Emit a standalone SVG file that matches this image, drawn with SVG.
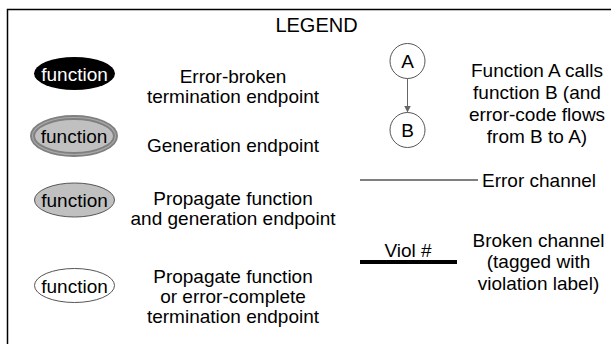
<svg xmlns="http://www.w3.org/2000/svg" width="611" height="344" viewBox="0 0 611 344">
<defs>
<style>
text{font-family:"Liberation Sans",Arial,sans-serif;font-size:19px;fill:#000;text-anchor:middle}
.w{fill:#fff}
.s{text-anchor:start}
.g{fill:#c0c0c0;stroke:#555;stroke-width:1}
.e{fill:#fff;stroke:#555;stroke-width:1}
.c{fill:#fff;stroke:#555;stroke-width:1}
</style>
<marker id="ah" viewBox="0 0 10 10" refX="10" refY="5" markerWidth="7" markerHeight="7" markerUnits="userSpaceOnUse" orient="auto"><path d="M0,0 L10,5 L0,10 z" fill="#666"/></marker>
</defs>
<rect x="7.5" y="9.5" width="700" height="400" fill="#fff" stroke="#000" stroke-width="1.5"/>
<text x="316.5" y="31.5" style="font-size:20px">LEGEND</text>
<g id="n1"><ellipse cx="74.5" cy="73.5" rx="40.5" ry="16.5" fill="#000"/><text class="w" x="74.5" y="80.5">function</text></g>
<g id="n2"><ellipse cx="74" cy="136" rx="41.5" ry="18.5" fill="#c0c0c0" stroke="#808080" stroke-width="5"/><ellipse cx="74" cy="136" rx="41.5" ry="18.5" fill="none" stroke="#a8a8a8" stroke-width="1.2"/><text x="74" y="143">function</text></g>
<g id="n3"><ellipse class="g" cx="74.5" cy="200" rx="40" ry="17"/><text x="74.5" y="207">function</text></g>
<g id="n4"><ellipse class="e" cx="74.5" cy="285.5" rx="40" ry="17"/><text x="74.5" y="292.5">function</text></g>
<text x="233" y="83">Error-broken</text>
<text x="233" y="103">termination endpoint</text>
<text x="233" y="152">Generation endpoint</text>
<text x="233" y="205">Propagate function</text>
<text x="233" y="225">and generation endpoint</text>
<text x="233" y="283">Propagate function</text>
<text x="233" y="303">or error-complete</text>
<text x="233" y="323">termination endpoint</text>
<g id="A"><circle class="c" cx="407.5" cy="61" r="17.5"/><text x="407.5" y="67.5">A</text></g>
<g id="B"><circle class="c" cx="407.5" cy="130" r="17.5"/><text x="407.5" y="136.5">B</text></g>
<g id="connectors">
<line x1="407.5" y1="78.5" x2="407.5" y2="112.5" stroke="#666" stroke-width="1" marker-end="url(#ah)"/>
<line x1="360" y1="180" x2="478" y2="180" stroke="#000" stroke-width="1"/>
<line x1="360" y1="262" x2="457" y2="262" stroke="#000" stroke-width="4"/>
</g>
<text x="537" y="77">Function A calls</text>
<text x="537" y="99">function B (and</text>
<text x="537" y="121">error-code flows</text>
<text x="537" y="143">from B to A)</text>
<text class="s" x="482" y="186.5">Error channel</text>
<text x="408" y="257">Viol #</text>
<text x="538.5" y="246.5">Broken channel</text>
<text x="538.5" y="268">(tagged with</text>
<text x="538.5" y="289.5">violation label)</text>
</svg>
